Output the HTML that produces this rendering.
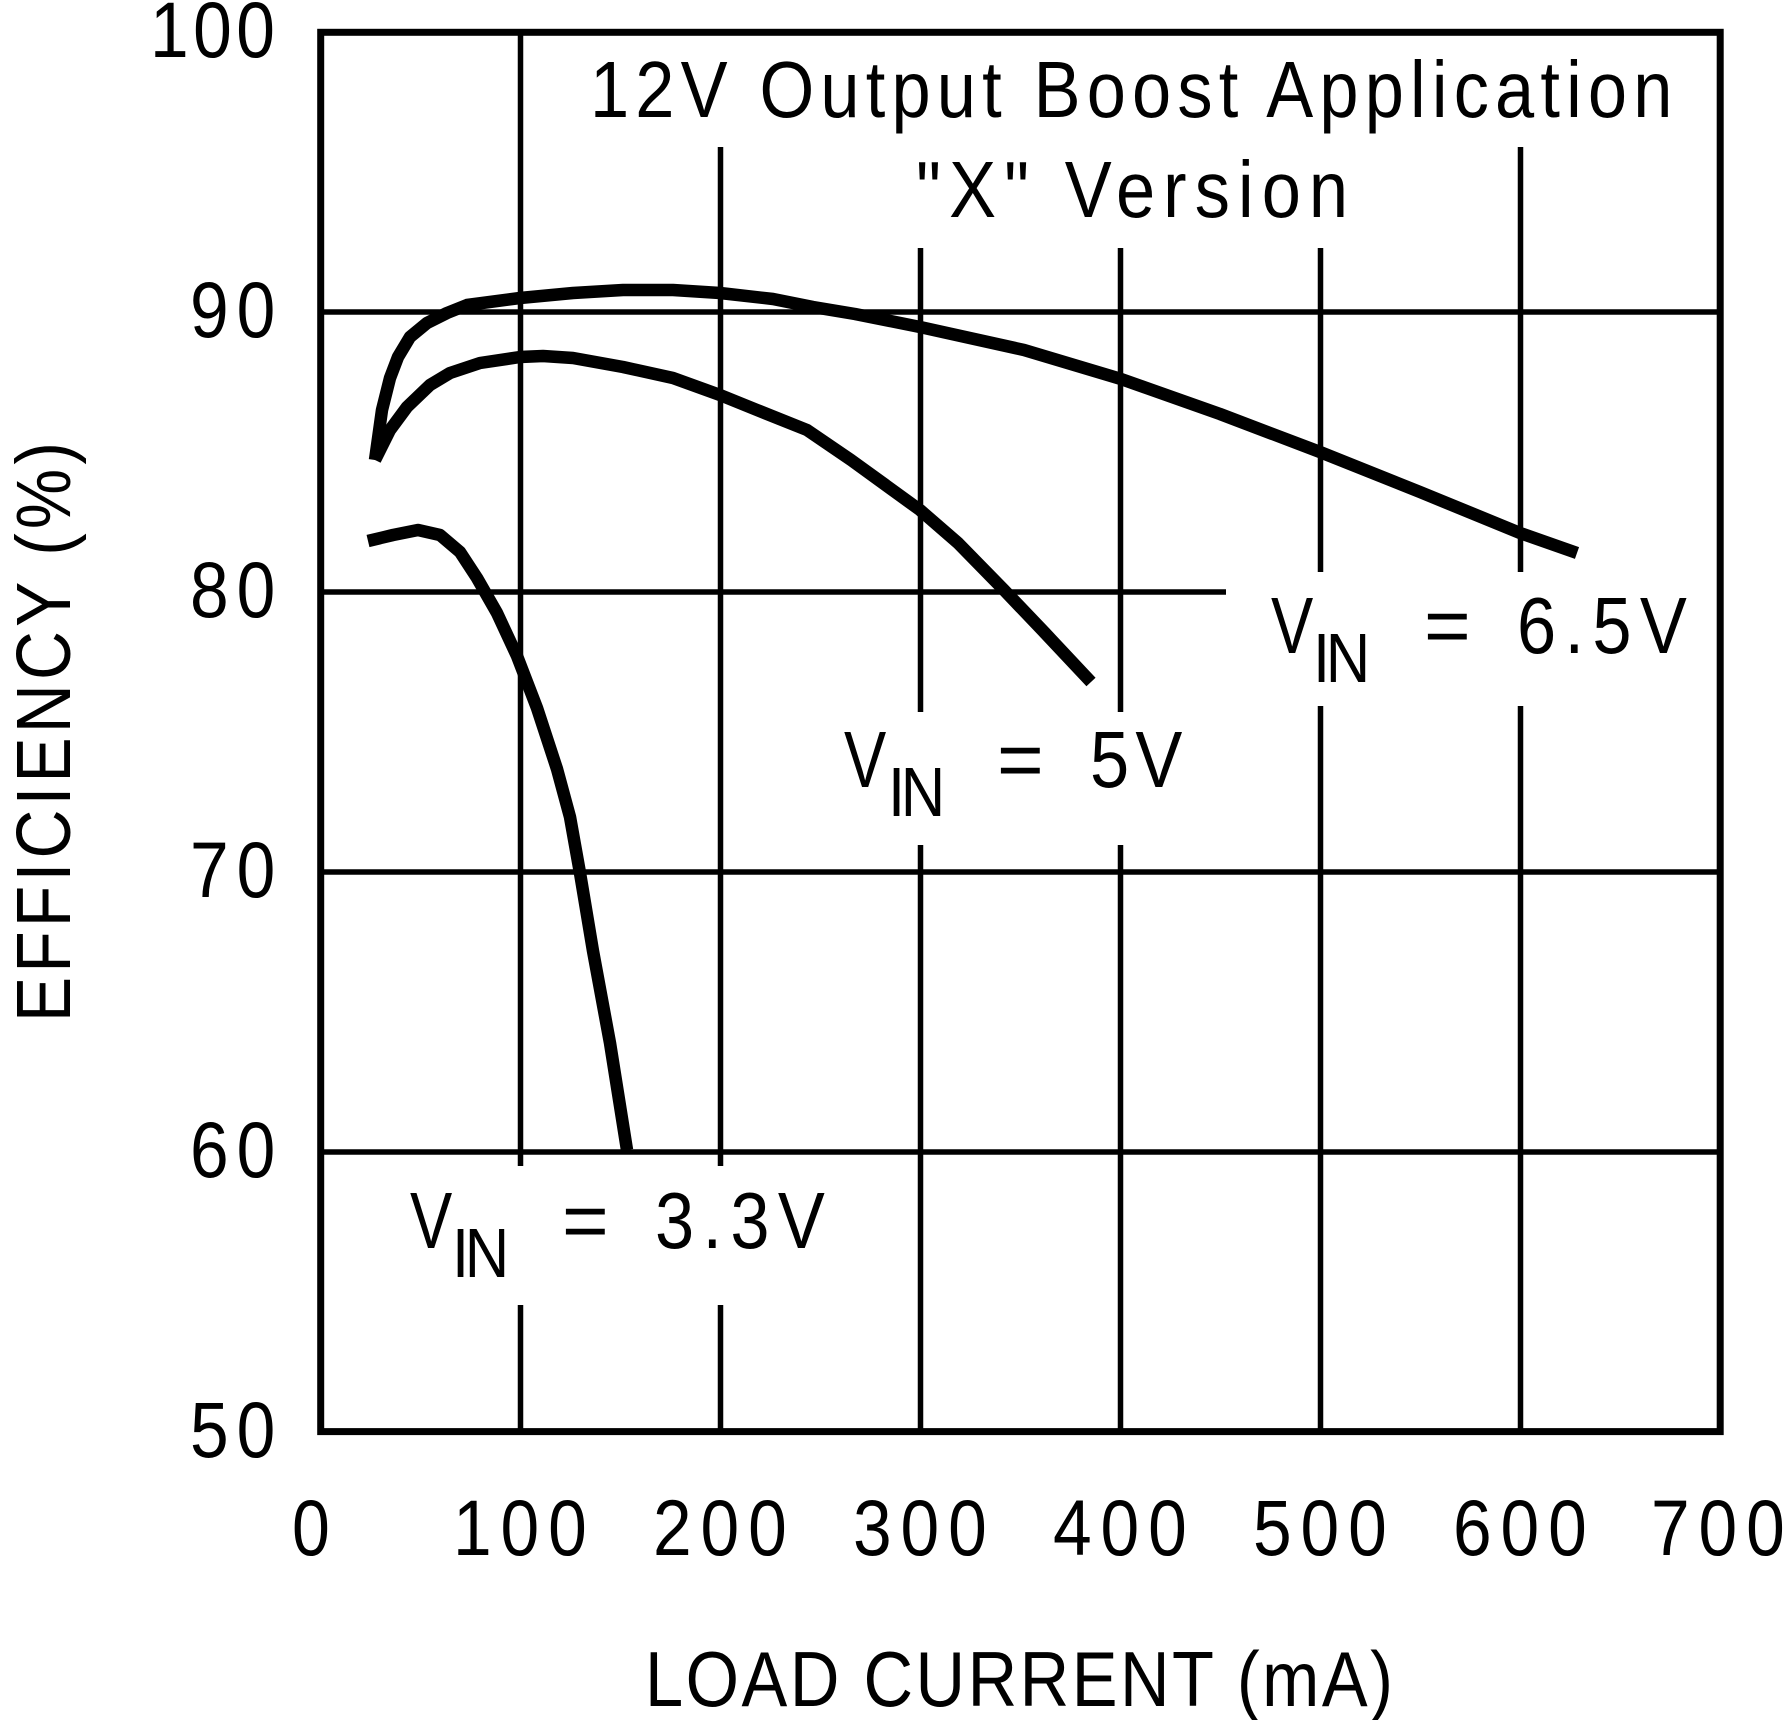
<!DOCTYPE html>
<html>
<head>
<meta charset="utf-8">
<style>
  html, body { margin: 0; padding: 0; background: #ffffff; }
  svg { display: block; }
  text { font-family: "Liberation Sans", "DejaVu Sans", sans-serif; fill: #000; }
</style>
</head>
<body>
<svg width="1784" height="1720" viewBox="0 0 1784 1720" xmlns="http://www.w3.org/2000/svg">
  <rect x="0" y="0" width="1784" height="1720" fill="#ffffff"/>

  <!-- grid lines -->
  <g stroke="#000" stroke-width="5.5" fill="none" stroke-linecap="butt">
    <line x1="520.5" y1="32" x2="520.5" y2="1166"/>
    <line x1="520.5" y1="1305" x2="520.5" y2="1432"/>
    <line x1="720.5" y1="147" x2="720.5" y2="1166"/>
    <line x1="720.5" y1="1305" x2="720.5" y2="1432"/>
    <line x1="920.5" y1="248" x2="920.5" y2="712"/>
    <line x1="920.5" y1="845" x2="920.5" y2="1432"/>
    <line x1="1120.5" y1="248" x2="1120.5" y2="712"/>
    <line x1="1120.5" y1="845" x2="1120.5" y2="1432"/>
    <line x1="1320.5" y1="248" x2="1320.5" y2="572"/>
    <line x1="1320.5" y1="706" x2="1320.5" y2="1432"/>
    <line x1="1520.5" y1="147" x2="1520.5" y2="572"/>
    <line x1="1520.5" y1="706" x2="1520.5" y2="1432"/>
    <line x1="321" y1="312" x2="1720" y2="312"/>
    <line x1="321" y1="592" x2="1226" y2="592"/>
    <line x1="321" y1="872" x2="1720" y2="872"/>
    <line x1="321" y1="1152" x2="1720" y2="1152"/>
  </g>

  <!-- frame -->
  <rect x="320.7" y="32.3" width="1399.5" height="1399.3" fill="none" stroke="#000" stroke-width="7"/>

  <!-- curves -->
  <g stroke="#000" stroke-width="12.5" fill="none" stroke-linejoin="round" stroke-linecap="butt">
    <polyline points="375,460 382,410 390,378 398,357 410,337 427,323 447,313 467,305 520,298 573,293 623,290 673,290 720,293 773,299 813,307 855,314 920,327 1024,350 1121,379 1220,414 1320,452 1420,492 1520,533 1577,553"/>
    <polyline points="375,460 390,430 407,407 430,385 450,373 480,363 520,357 543,356 573,358 623,367 673,378 720,395 757,410 807,430 851,460 920,510 958,543 1004,590 1045,633 1091,682"/>
    <polyline points="368,541 393,535 418,530 440,535 460,552 477,578 497,613 517,656 537,708 557,769 570,817 580,873 593,951 610,1043 627,1150"/>
  </g>

  <!-- title -->
  <text transform="translate(590,117) scale(0.88,1)" font-size="80" textLength="1230" lengthAdjust="spacing">12V Output Boost Application</text>
  <text transform="translate(916,217) scale(0.88,1)" font-size="80" textLength="491" lengthAdjust="spacing">"X" Version</text>

  <!-- y tick labels -->
  <g font-size="79">
    <text transform="translate(150,57) scale(0.88,1)" textLength="142" lengthAdjust="spacing">100</text>
    <text transform="translate(190,337) scale(0.88,1)" textLength="97" lengthAdjust="spacing">90</text>
    <text transform="translate(190,617) scale(0.88,1)" textLength="97" lengthAdjust="spacing">80</text>
    <text transform="translate(190,897) scale(0.88,1)" textLength="97" lengthAdjust="spacing">70</text>
    <text transform="translate(190,1177) scale(0.88,1)" textLength="97" lengthAdjust="spacing">60</text>
    <text transform="translate(190,1457) scale(0.88,1)" textLength="97" lengthAdjust="spacing">50</text>
  </g>

  <!-- x tick labels -->
  <g font-size="79">
    <text transform="translate(292,1555) scale(0.88,1)" textLength="43" lengthAdjust="spacingAndGlyphs">0</text>
    <text transform="translate(453,1555) scale(0.88,1)" textLength="152" lengthAdjust="spacing">100</text>
    <text transform="translate(653,1555) scale(0.88,1)" textLength="152" lengthAdjust="spacing">200</text>
    <text transform="translate(853,1555) scale(0.88,1)" textLength="152" lengthAdjust="spacing">300</text>
    <text transform="translate(1053,1555) scale(0.88,1)" textLength="152" lengthAdjust="spacing">400</text>
    <text transform="translate(1253,1555) scale(0.88,1)" textLength="152" lengthAdjust="spacing">500</text>
    <text transform="translate(1453,1555) scale(0.88,1)" textLength="152" lengthAdjust="spacing">600</text>
    <text transform="translate(1651,1555) scale(0.88,1)" textLength="152" lengthAdjust="spacing">700</text>
  </g>

  <!-- axis titles -->
  <text transform="translate(645,1706) scale(0.88,1)" font-size="78" textLength="850" lengthAdjust="spacing">LOAD CURRENT (mA)</text>
  <text transform="translate(70,1022) rotate(-90) scale(0.88,1)" font-size="77" textLength="659" lengthAdjust="spacing">EFFICIENCY (%)</text>

  <!-- VIN = 6.5V -->
  <text transform="translate(1271,653) scale(0.88,1)" font-size="80" textLength="48" lengthAdjust="spacingAndGlyphs">V</text>
  <text transform="translate(1313,682) scale(0.88,1)" font-size="70" textLength="65" lengthAdjust="spacing">IN</text>
  <text x="1424" y="653" font-size="80">=</text>
  <text transform="translate(1517,653) scale(0.88,1)" font-size="80" textLength="193" lengthAdjust="spacing">6.5V</text>

  <!-- VIN = 5V -->
  <text transform="translate(844,787) scale(0.88,1)" font-size="80" textLength="48" lengthAdjust="spacingAndGlyphs">V</text>
  <text transform="translate(888,816) scale(0.88,1)" font-size="70" textLength="65" lengthAdjust="spacing">IN</text>
  <text x="997" y="787" font-size="80">=</text>
  <text transform="translate(1090,787) scale(0.88,1)" font-size="80" textLength="105" lengthAdjust="spacing">5V</text>

  <!-- VIN = 3.3V -->
  <text transform="translate(410,1248) scale(0.88,1)" font-size="80" textLength="48" lengthAdjust="spacingAndGlyphs">V</text>
  <text transform="translate(452,1277) scale(0.88,1)" font-size="70" textLength="65" lengthAdjust="spacing">IN</text>
  <text x="562" y="1248" font-size="80">=</text>
  <text transform="translate(655,1248) scale(0.88,1)" font-size="80" textLength="193" lengthAdjust="spacing">3.3V</text>
</svg>
</body>
</html>
